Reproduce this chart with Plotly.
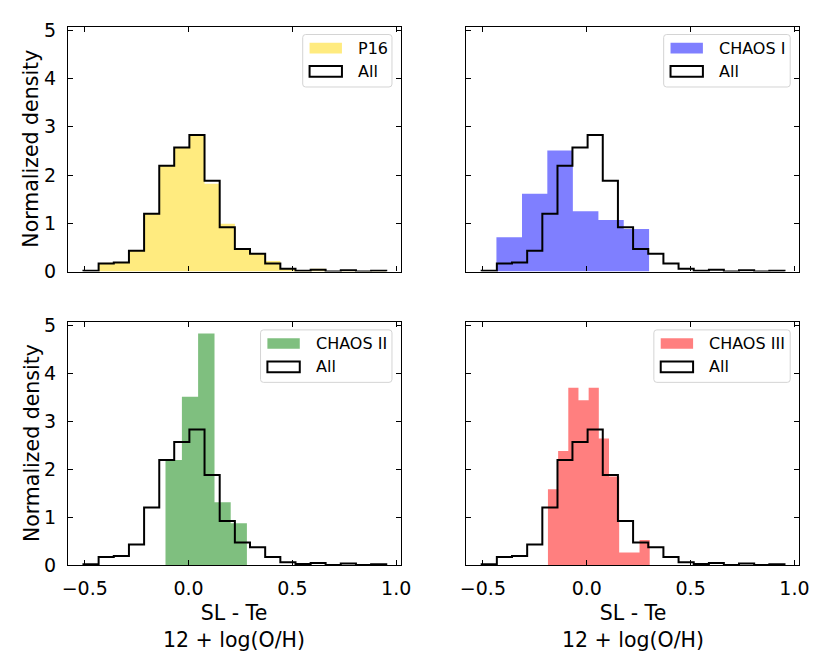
import plotly.graph_objects as go

# ---------------- data ----------------
ALL_EDGES = [-0.506, -0.433, -0.360, -0.287, -0.214, -0.141, -0.069, 0.004, 0.077, 0.150,
             0.223, 0.296, 0.369, 0.442, 0.515, 0.588, 0.660, 0.733, 0.806, 0.879, 0.952]
ALL_DENS = [0.015, 0.17, 0.19, 0.43, 1.20, 2.19, 2.57, 2.83, 1.88, 0.92,
            0.47, 0.37, 0.17, 0.06, 0.02, 0.04, 0.0, 0.03, 0.0, 0.015]

P16_EDGES = ALL_EDGES
P16_DENS = [0.0, 0.18, 0.19, 0.43, 1.20, 2.19, 2.57, 2.83, 1.82, 0.99,
            0.47, 0.37, 0.22, 0.07, 0.02, 0.06, 0.0, 0.03, 0.0, 0.015]

CHAOS1_EDGES = [-0.435, -0.312, -0.190, -0.067, 0.056, 0.178, 0.300]
CHAOS1_DENS = [0.71, 1.61, 2.51, 1.25, 1.07, 0.88]

CHAOS2_EDGES = [-0.111, -0.032, 0.046, 0.125, 0.203, 0.281]
CHAOS2_DENS = [2.19, 3.51, 4.83, 1.31, 0.87]

CHAOS3_EDGES = [-0.187, -0.138, -0.089, -0.040, 0.009, 0.058, 0.107, 0.156, 0.205, 0.254, 0.303]
CHAOS3_DENS = [1.58, 2.38, 3.70, 3.44, 3.70, 2.64, 1.85, 0.26, 0.26, 0.52]

LABELS = ["P16", "CHAOS I", "CHAOS II", "CHAOS III"]
COLORS = ["rgba(255,215,0,0.5)", "rgba(0,0,255,0.5)", "rgba(0,128,0,0.5)", "rgba(255,0,0,0.5)"]
SUBSETS = [(P16_EDGES, P16_DENS), (CHAOS1_EDGES, CHAOS1_DENS),
           (CHAOS2_EDGES, CHAOS2_DENS), (CHAOS3_EDGES, CHAOS3_DENS)]

X_TICKS = [-0.5, 0.0, 0.5, 1.0]
Y_TICKS = [0, 1, 2, 3, 4, 5]
X_TITLE = "SL - Te<br>12 + log(O/H)"
Y_TITLE = "Normalized density"

# ---------------- layout geometry (pixels) ----------------
W, H = 836, 669
FONT = "DejaVu Sans"
# panels: (left, right, top, bottom)
PANELS = [(63.3, 402.5, 19.3, 271.3), (469.3, 808.5, 19.3, 271.3),
          (63.3, 402.5, 323.3, 573.3), (469.3, 808.5, 323.3, 573.3)]
LEG_W = [91, 129, 134, 139]


def px(x):
    return x / W


def py(y):
    return 1 - y / H


def step_outline(edges, dens):
    sx, sy = [edges[0]], [0]
    for k, h in enumerate(dens):
        sx += [edges[k], edges[k + 1]]
        sy += [h, h]
    sx.append(edges[-1])
    sy.append(0)
    return sx, sy


fig = go.Figure()
layout = dict(width=W, height=H, margin=dict(l=0, r=0, t=0, b=0),
              paper_bgcolor="white", plot_bgcolor="white", showlegend=False,
              font=dict(family=FONT, color="black"))
shapes, annotations = [], []

for i, (l, r, t, b) in enumerate(PANELS):
    n = "" if i == 0 else str(i + 1)
    xa, ya = "x" + n, "y" + n
    edges, dens = SUBSETS[i]
    fx, fy = step_outline(edges, dens)
    fig.add_trace(go.Scatter(x=fx, y=fy, mode="lines", fill="toself", fillcolor=COLORS[i],
                             line=dict(width=0, color=COLORS[i]), xaxis=xa, yaxis=ya, hoverinfo="skip"))
    sx, sy = step_outline(ALL_EDGES, ALL_DENS)
    fig.add_trace(go.Scatter(x=sx, y=sy, mode="lines", line=dict(color="black", width=2),
                             xaxis=xa, yaxis=ya, hoverinfo="skip"))

    bottom_row = i >= 2
    left_col = i % 2 == 0
    layout["xaxis" + n] = dict(domain=[px(l), px(r)], anchor=ya, range=[-0.58, 1.022],
                               tickvals=X_TICKS, ticktext=[("−" if v < 0 else "") + f"{abs(v):.1f}" for v in X_TICKS],
                               showticklabels=bottom_row, ticks="inside", ticklen=5, tickwidth=1.3,
                               tickcolor="black", showline=True, linecolor="black", linewidth=1.3,
                               mirror="ticks", showgrid=False, zeroline=False, ticklabelstandoff=6,
                               tickfont=dict(family=FONT, size=19, color="black"))
    layout["yaxis" + n] = dict(domain=[py(b), py(t)], anchor=xa, range=[0, 5.07],
                               tickvals=Y_TICKS, showticklabels=left_col, ticks="inside", ticklen=5,
                               tickwidth=1.3, tickcolor="black", showline=True, linecolor="black",
                               linewidth=1.3, mirror="ticks", showgrid=False, zeroline=False,
                               ticklabelstandoff=7,
                               tickfont=dict(family=FONT, size=19, color="black"))

    if left_col:
        annotations.append(dict(text=Y_TITLE, x=px(26), y=py((t + b) / 2), xref="paper", yref="paper",
                                textangle=-90, showarrow=False, xanchor="center", yanchor="middle",
                                font=dict(family=FONT, size=20.5, color="black")))
    if bottom_row:
        annotations.append(dict(text=X_TITLE, x=px((l + r) / 2), y=py(637), xref="paper", yref="paper",
                                showarrow=False, xanchor="center", yanchor="middle",
                                font=dict(family=FONT, size=20.5, color="black")))

    # legend (drawn manually to mimic the reference)
    bx1 = r - 9
    bx0 = bx1 - LEG_W[i]
    by0 = t + 8
    by1 = by0 + 54
    rad = 3
    path = (f"M {px(bx0 + rad)},{py(by0)} L {px(bx1 - rad)},{py(by0)} Q {px(bx1)},{py(by0)} {px(bx1)},{py(by0 + rad)} "
            f"L {px(bx1)},{py(by1 - rad)} Q {px(bx1)},{py(by1)} {px(bx1 - rad)},{py(by1)} "
            f"L {px(bx0 + rad)},{py(by1)} Q {px(bx0)},{py(by1)} {px(bx0)},{py(by1 - rad)} "
            f"L {px(bx0)},{py(by0 + rad)} Q {px(bx0)},{py(by0)} {px(bx0 + rad)},{py(by0)} Z")
    shapes.append(dict(type="path", path=path, xref="paper", yref="paper",
                       fillcolor="rgba(255,255,255,0.8)", line=dict(color="#d4d4d4", width=1)))
    pl = bx0 + 7
    rows = [(LABELS[i], COLORS[i], 0), ("All", "white", 2)]
    for j, (lab, col, lw) in enumerate(rows):
        cy = by0 + 14 + 24 * j
        shapes.append(dict(type="rect", xref="paper", yref="paper", x0=px(pl), x1=px(pl + 33),
                           y0=py(cy + 5.5), y1=py(cy - 5.5), fillcolor=col,
                           line=dict(color="black", width=lw) if lw else dict(width=0)))
        annotations.append(dict(text=lab, x=px(pl + 47), y=py(cy), xref="paper", yref="paper",
                                showarrow=False, xanchor="left", yanchor="middle",
                                font=dict(family=FONT, size=16, color="black")))

layout["shapes"] = shapes
layout["annotations"] = annotations
fig.update_layout(**layout)
fig.write_html("out.html")
